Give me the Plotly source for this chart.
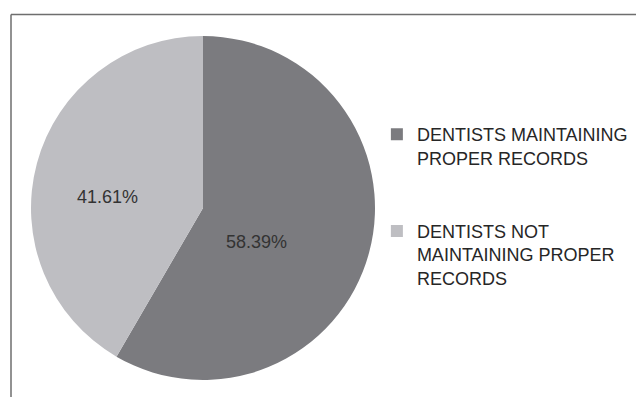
import plotly.graph_objects as go

categories = ["DENTISTS MAINTAINING<br>PROPER RECORDS<br> <br> ",
              "DENTISTS NOT<br>MAINTAINING PROPER<br>RECORDS"]
values = [58.39, 41.61]
colors = ["#7b7b7f", "#bebec2"]
# label anchor points (figure pixels) for the percentage texts
label_px = [(248, 234), (99, 189)]

W, H = 636, 389
cx, cy, r = 195, 200, 172

fig = go.Figure(go.Pie(
    labels=categories,
    values=values,
    sort=False,
    direction="clockwise",
    rotation=0,
    marker=dict(colors=colors, line=dict(width=0)),
    textinfo="none",
    domain=dict(x=[(cx - r) / W, (cx + r) / W], y=[(H - cy - r) / H, (H - cy + r) / H]),
    hoverinfo="skip",
))

total = sum(values)
for v, (px, py) in zip(values, label_px):
    fig.add_annotation(
        x=px / W, y=1 - py / H, xref="paper", yref="paper",
        text=f"{100 * v / total:.2f}%", showarrow=False,
        xanchor="center", yanchor="middle",
        font=dict(family="Liberation Sans, Arial", size=18, color="#333333"),
    )

fig.update_layout(
    width=W, height=H,
    margin=dict(l=0, r=0, t=0, b=0),
    paper_bgcolor="white",
    plot_bgcolor="white",
    showlegend=True,
    legend=dict(
        x=0.580, y=0.722, xanchor="left", yanchor="top",
        font=dict(family="Liberation Sans, Arial", size=18, color="#262626"),
        valign="top",
        bgcolor="rgba(0,0,0,0)",
    ),
    shapes=[
        dict(type="line", xref="paper", yref="paper", x0=3 / W, x1=1, y0=1 - 6.5 / H, y1=1 - 6.5 / H,
             line=dict(color="#6e6e6e", width=1.5)),
        dict(type="line", xref="paper", yref="paper", x0=3 / W, x1=3 / W, y0=0, y1=1 - 6.5 / H,
             line=dict(color="#6e6e6e", width=1.5)),
    ],
)

fig.write_html("out.html")
